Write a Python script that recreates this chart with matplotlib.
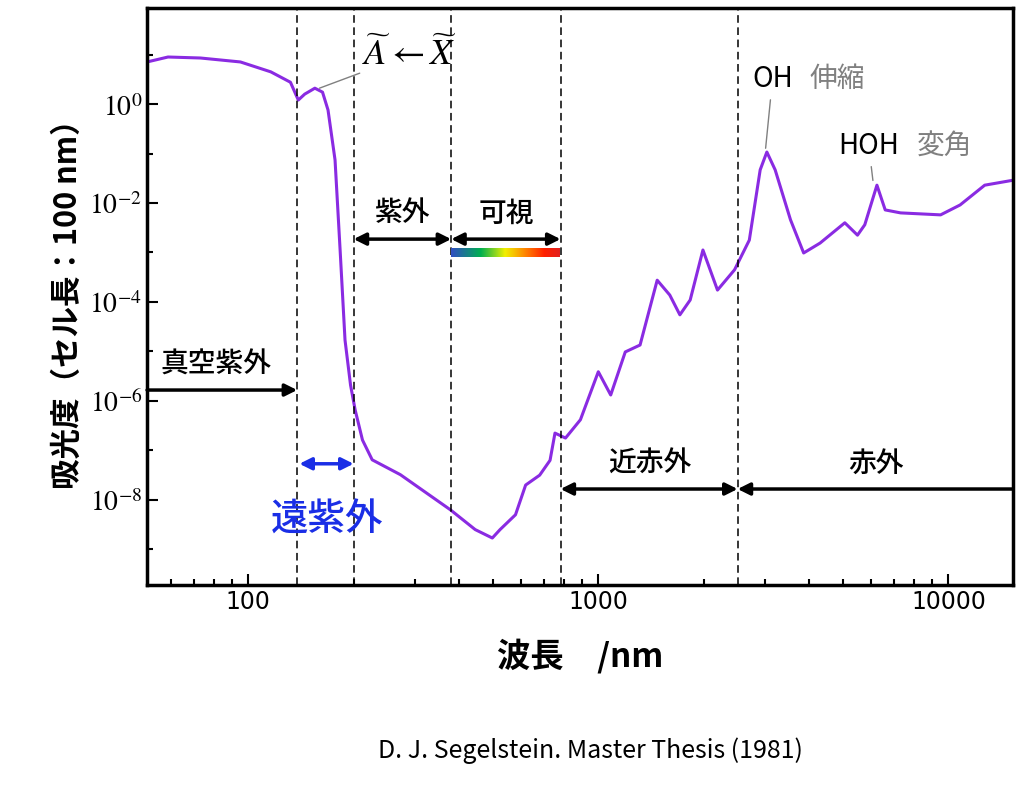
import numpy as np
import matplotlib
matplotlib.use("Agg")
import matplotlib.pyplot as plt
from matplotlib.colors import LinearSegmentedColormap
from matplotlib.ticker import FixedLocator, FuncFormatter, NullFormatter

plt.rcParams['font.family'] = ['Noto Sans CJK JP', 'DejaVu Sans']
plt.rcParams['mathtext.fontset'] = 'stix'

wavelength = [51.4, 59, 73, 95, 116, 132, 139, 145, 155, 163, 169, 177, 183, 189, 196, 202, 212, 226,
              272, 378, 445, 498, 524, 580, 620, 680, 728, 752, 806, 889, 1000, 1085, 1194, 1316, 1473,
              1600, 1710, 1830, 1990, 2190, 2450, 2700, 2900, 3030, 3200, 3540, 3860, 4300, 5060, 5500,
              5770, 6250, 6600, 7300, 9500, 10800, 12700, 15300]
log_abs = [0.85, 0.95, 0.93, 0.85, 0.65, 0.44, 0.08, 0.2, 0.32, 0.24, -0.12, -1.13, -2.95, -4.77, -5.68,
           -6.18, -6.79, -7.19, -7.49, -8.2, -8.6, -8.77, -8.6, -8.3, -7.7, -7.5, -7.2, -6.65, -6.75,
           -6.38, -5.41, -5.88, -5.01, -4.87, -3.56, -3.86, -4.26, -3.96, -2.95, -3.76, -3.35, -2.75,
           -1.33, -0.97, -1.33, -2.34, -3.01, -2.81, -2.40, -2.65, -2.44, -1.64, -2.14, -2.2, -2.24,
           -2.04, -1.64, -1.54]
boundaries = [138, 200, 380, 780, 2500]
ytick_exp = [0, -2, -4, -6, -8]
xticks = [100, 1000, 10000]

fig = plt.figure(figsize=(10.24, 7.94), dpi=100)
ax = fig.add_axes([0.1436, 0.2632, 0.8457, 0.7267])
ax.set_xscale('log'); ax.set_yscale('log')
ax.plot(wavelength, 10.0 ** np.array(log_abs), color='#8a2be2', lw=2.2, solid_joinstyle='round')
for b in boundaries:
    ax.axvline(b, color='black', ls=(0, (5, 3)), lw=1.1)

ax.yaxis.set_major_locator(FixedLocator([10.0 ** e for e in ytick_exp]))
ax.yaxis.set_major_formatter(FuncFormatter(lambda v, p: f"$10^{{{int(round(np.log10(v)))}}}$"))
ax.yaxis.set_minor_locator(FixedLocator([10.0 ** e for e in range(-9, 2, 2)]))
ax.yaxis.set_minor_formatter(NullFormatter())
ax.xaxis.set_major_locator(FixedLocator(xticks))
ax.xaxis.set_major_formatter(FuncFormatter(lambda v, p: f"{int(v)}"))
ax.xaxis.set_minor_formatter(NullFormatter())
ax.tick_params(which='both', direction='in', width=1.5)
ax.tick_params(which='major', length=8, labelsize=20)
ax.tick_params(which='minor', length=4)
for lab in ax.get_xticklabels():
    lab.set_family('DejaVu Sans'); lab.set_fontsize(17)
for s in ax.spines.values():
    s.set_linewidth(2.5)

ax.set_ylabel('吸光度（セル長：100 nm）', fontsize=22, fontweight='bold')
ax.set_xlabel('波長　/nm', fontsize=24, fontweight='bold', labelpad=18)

def darrow(x1, x2, y, color='black'):
    ax.annotate('', xy=(x2, y), xytext=(x1, y),
                arrowprops=dict(arrowstyle='<|-|>', color=color, lw=2.5, mutation_scale=18, shrinkA=0, shrinkB=0))

def rarrow(x1, x2, y):
    ax.annotate('', xy=(x2, y), xytext=(x1, y),
                arrowprops=dict(arrowstyle='-|>', color='black', lw=2.5, mutation_scale=18, shrinkA=0, shrinkB=0))

tk = dict(fontsize=20, fontweight='medium', va='center')
rarrow(51.4, 138, 10 ** -5.78)
ax.text(56, 10 ** -5.25, '真空紫外', **tk)
darrow(200, 380, 10 ** -2.73)
ax.text(276, 10 ** -2.2, '紫外', ha='center', **tk)
darrow(380, 780, 10 ** -2.73)
ax.text(545, 10 ** -2.2, '可視', ha='center', **tk)
darrow(140, 200, 10 ** -7.27, color='#1a2ee6')
ax.text(168, 10 ** -8.4, '遠紫外', fontsize=27, fontweight='medium', color='#1a2ee6', ha='center', va='center')
darrow(780, 2500, 10 ** -7.78)
ax.text(1400, 10 ** -7.25, '近赤外', ha='center', **tk)
rarrow(15300, 2500, 10 ** -7.78)
ax.text(6200, 10 ** -7.25, '赤外', ha='center', **tk)

cmap = LinearSegmentedColormap.from_list('vis', ['#3050c0', '#00b050', '#f0f000', '#ff8000', '#ff2000', '#e02020'])
grad = np.linspace(0, 1, 256).reshape(1, -1)
ax.imshow(grad, cmap=cmap, aspect='auto', extent=(380, 780, 10 ** -3.1, 10 ** -2.9), zorder=3)
ax.set_xlim(51.4, 15300); ax.set_ylim(10 ** -9.72, 10 ** 1.94)

ax.annotate(r'$\widetilde{A}\leftarrow\widetilde{X}$', xy=(157, 10 ** 0.3), xytext=(212, 10 ** 1.0),
            fontsize=26, va='center', arrowprops=dict(arrowstyle='-', color='gray', lw=1, shrinkA=0))
ax.annotate('OH', xy=(3000, 10 ** -0.95), xytext=(2750, 10 ** 0.5), fontsize=20, va='center',
            arrowprops=dict(arrowstyle='-', color='gray', lw=1, shrinkA=2))
ax.text(4000, 10 ** 0.5, '伸縮', fontsize=20, color='gray', va='center')
ax.annotate('HOH', xy=(6100, 10 ** -1.6), xytext=(4850, 10 ** -0.85), fontsize=20, va='center',
            arrowprops=dict(arrowstyle='-', color='gray', lw=1, shrinkA=2))
ax.text(8100, 10 ** -0.85, '変角', fontsize=20, color='gray', va='center')

fig.text(0.577, 0.055, 'D. J. Segelstein. Master Thesis (1981)', fontsize=18, ha='center', va='center')
fig.savefig('out.png', dpi=100)
